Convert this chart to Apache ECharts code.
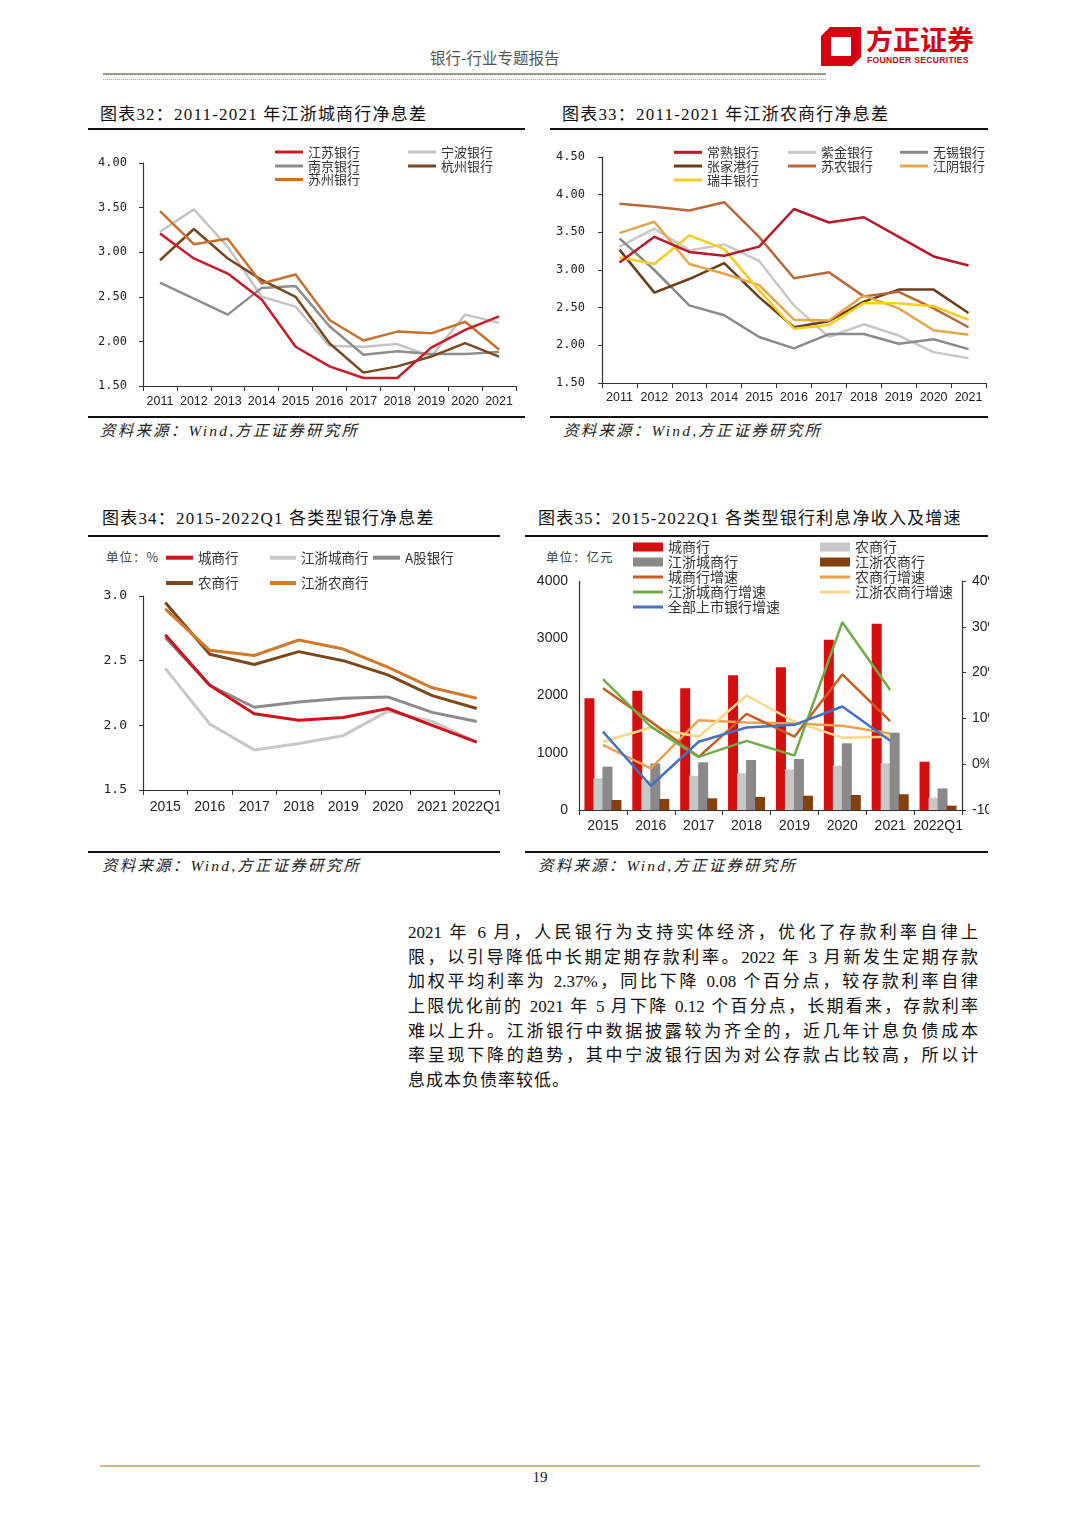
<!DOCTYPE html>
<html lang="zh-CN">
<head>
<meta charset="utf-8">
<script src="https://cdn.jsdelivr.net/npm/echarts@6/dist/echarts.min.js"></script>
<style>
body{margin:0;background:#fff;}
#page{position:relative;width:1080px;height:1528px;overflow:hidden;background:#fff;font-family:"Liberation Serif","Noto Sans CJK SC",serif;}
.abs{position:absolute;white-space:nowrap;}
.title{font-size:17px;letter-spacing:1.2px;color:#111;line-height:20px;}
.rule{position:absolute;height:0;border-top:2.5px solid #111;}
.src{font-size:15.5px;font-style:italic;letter-spacing:2.2px;color:#222;line-height:18px;}
.chart{position:absolute;overflow:hidden;}
.unit{font-family:"Noto Sans CJK SC",sans-serif;font-size:12.5px;color:#444;line-height:14px;letter-spacing:1px;}
.para{position:absolute;left:408px;top:921px;width:570px;font-size:17px;color:#111;}
.para div{height:24.67px;line-height:24.67px;text-align:justify;text-align-last:justify;}
.para div.last{text-align-last:left;letter-spacing:1px;}
</style>
</head>
<body>
<div id="page">
  <!-- header -->
  <div class="abs" style="left:430px;top:47px;font-family:'Noto Sans CJK SC',sans-serif;font-size:15.5px;color:#555;line-height:20px;">银行-行业专题报告</div>
  <div class="abs" style="left:103px;top:73px;width:723px;height:0;border-top:2px solid #9e9a80;"></div>
  <div class="abs" style="left:103px;top:79px;width:723px;height:0;border-top:1px dotted #a8a8a8;"></div>
  <svg class="abs" style="left:0;top:0;" width="1080" height="90">
    <path d="M830 27 L861 27 L861 57 L852 66 L821 66 L821 36 Z M831 37 L851 37 L851 56 L831 56 Z" fill="#d7000f" fill-rule="evenodd"/>
  </svg>
  <div class="abs" style="left:866px;top:22px;font-family:'Noto Sans CJK SC',sans-serif;font-weight:700;font-size:27px;color:#d7000f;line-height:34px;letter-spacing:0px;">方正证券</div>
  <div class="abs" style="left:867px;top:55px;font-family:'Liberation Sans',sans-serif;font-weight:700;font-size:8.6px;color:#d7000f;line-height:10px;letter-spacing:0.3px;">FOUNDER SECURITIES</div>

  <!-- chart 32 -->
  <div class="abs title" style="left:100px;top:105px;">图表32：2011-2021 年江浙城商行净息差</div>
  <div class="rule" style="left:88px;top:128px;width:437px;"></div>
  <div id="c32" class="chart" style="left:88px;top:135px;width:437px;height:280px;"></div>
  <div class="rule" style="left:88px;top:416px;width:437px;"></div>
  <div class="abs src" style="left:100px;top:422px;">资料来源：Wind,方正证券研究所</div>

  <!-- chart 33 -->
  <div class="abs title" style="left:562px;top:105px;">图表33：2011-2021 年江浙农商行净息差</div>
  <div class="rule" style="left:550px;top:128px;width:438px;"></div>
  <div id="c33" class="chart" style="left:550px;top:135px;width:438px;height:280px;"></div>
  <div class="rule" style="left:550px;top:416px;width:438px;"></div>
  <div class="abs src" style="left:563px;top:422px;">资料来源：Wind,方正证券研究所</div>

  <!-- chart 34 -->
  <div class="abs title" style="left:102px;top:509px;">图表34：2015-2022Q1 各类型银行净息差</div>
  <div class="rule" style="left:88px;top:535px;width:412px;"></div>
  <div class="abs unit" style="left:106px;top:550px;">单位：%</div>
  <div id="c34" class="chart" style="left:88px;top:540px;width:412px;height:310px;"></div>
  <div class="rule" style="left:88px;top:851px;width:412px;"></div>
  <div class="abs src" style="left:102px;top:857px;">资料来源：Wind,方正证券研究所</div>

  <!-- chart 35 -->
  <div class="abs title" style="left:538px;top:509px;">图表35：2015-2022Q1 各类型银行利息净收入及增速</div>
  <div class="rule" style="left:525px;top:535px;width:463px;"></div>
  <div class="abs unit" style="left:546px;top:550px;">单位：亿元</div>
  <div id="c35" class="chart" style="left:525px;top:540px;width:464px;height:310px;"></div>
  <div class="rule" style="left:525px;top:851px;width:463px;"></div>
  <div class="abs src" style="left:538px;top:857px;">资料来源：Wind,方正证券研究所</div>

  <!-- paragraph -->
  <div class="para">
    <div>2021 年 6 月，人民银行为支持实体经济，优化了存款利率自律上</div>
    <div>限，以引导降低中长期定期存款利率。2022 年 3 月新发生定期存款</div>
    <div>加权平均利率为 2.37%，同比下降 0.08 个百分点，较存款利率自律</div>
    <div>上限优化前的 2021 年 5 月下降 0.12 个百分点，长期看来，存款利率</div>
    <div>难以上升。江浙银行中数据披露较为齐全的，近几年计息负债成本</div>
    <div>率呈现下降的趋势，其中宁波银行因为对公存款占比较高，所以计</div>
    <div class="last">息成本负债率较低。</div>
  </div>

  <!-- footer -->
  <div class="abs" style="left:100px;top:1465px;width:880px;height:0;border-top:2px solid #cdb88e;"></div>
  <div class="abs" style="left:530px;top:1468px;width:20px;text-align:center;font-size:15px;color:#222;line-height:18px;">19</div>
</div>

<script>
// ---------- data ----------
const years1121 = ['2011','2012','2013','2014','2015','2016','2017','2018','2019','2020','2021'];
const yTicks32 = [1.5, 4.0, 0.5];   // min, max, interval
const yTicks33 = [1.5, 4.5, 0.5];

// chart 32: 江浙城商行净息差 (%)
const jiangsuBank  = [3.21,2.93,2.76,2.47,1.94,1.72,1.59,1.59,1.93,2.13,2.28];
const ningboBank   = [3.23,3.48,3.06,2.50,2.39,1.95,1.94,1.97,1.83,2.30,2.21];
const nanjingBank  = [2.66,2.48,2.30,2.60,2.62,2.17,1.85,1.89,1.86,1.86,1.88];
const hangzhouBank = [2.91,3.26,2.93,2.69,2.50,1.98,1.65,1.72,1.83,1.98,1.83];
const suzhouBank   = [3.46,3.09,3.15,2.65,2.75,2.24,2.01,2.11,2.09,2.22,1.91];

// chart 33: 江浙农商行净息差 (%)
const changshuBank = [3.10,3.44,3.24,3.19,3.31,3.81,3.63,3.70,3.44,3.18,3.06];
const zijinBank    = [3.31,3.55,3.26,3.34,3.12,2.53,2.11,2.28,2.13,1.91,1.83];
const wuxiBank     = [3.42,3.00,2.53,2.40,2.11,1.96,2.15,2.15,2.02,2.08,1.95];
const zjgBank      = [3.27,2.70,2.88,3.09,2.64,2.24,2.32,2.58,2.74,2.74,2.43];
const sunongBank   = [3.88,3.84,3.79,3.90,3.44,2.89,2.97,2.65,2.71,2.49,2.24];
const jiangyinBank = [3.49,3.64,3.08,2.95,2.80,2.34,2.33,2.66,2.49,2.20,2.14];
const ruifengBank  = [3.17,3.08,3.46,3.28,2.73,2.22,2.27,2.56,2.56,2.52,2.34];

// chart 34: 各类型银行净息差 (%)
const years1522 = ['2015','2016','2017','2018','2019','2020','2021','2022Q1'];
const nimCity    = [2.70,2.31,2.09,2.04,2.06,2.13,2.00,1.87];
const nimZjCity  = [2.44,2.01,1.81,1.86,1.92,2.11,2.03,1.87];
const nimAShare  = [2.68,2.31,2.14,2.18,2.21,2.22,2.10,2.03];
const nimRural   = [2.95,2.55,2.47,2.57,2.50,2.39,2.23,2.13];
const nimZjRural = [2.90,2.58,2.54,2.66,2.59,2.45,2.29,2.21];

// chart 35: 利息净收入 (亿元) 及增速 (%)
const incCity    = [1950,2085,2125,2352,2492,2975,3255,844];
const incRural   = [553,520,600,640,710,774,815,215];
const incZjCity  = [757,815,833,873,891,1165,1351,378];
const incZjRural = [175,192,204,227,250,262,274,76];
const grCity     = [16.6,9.3,1.6,11.0,6.0,19.6,9.4,null];
const grRural    = [4.2,-0.9,9.6,9.1,8.9,8.4,6.7,null];
const grZjCity   = [18.6,8.2,1.6,5.1,1.9,31.0,16.2,null];
const grZjRural  = [4.9,8.0,6.0,15.0,9.3,5.8,6.0,null];
const grAll      = [7.1,-4.7,4.9,8.0,8.6,12.6,5.1,null];

// ---------- helpers ----------
const CJK = '"Noto Sans CJK SC", sans-serif';
const AX = '#333';
function leg(name, x, y, w, h, fs) {
  return {data:[name], left:x, top:y - fs/2, padding:0, icon:'rect', itemWidth:w, itemHeight:h,
    selectedMode:false, textStyle:{fontSize:fs, color:'#333', fontFamily:CJK}};
}
function lineS(name, data, color, width, yIdx) {
  return {name, type:'line', data, symbol:'none', smooth:false, yAxisIndex:yIdx||0, z:5,
    itemStyle:{color}, lineStyle:{color, width}, connectNulls:false};
}
function catAxis(data, fs, family, margin) {
  return {type:'category', data, boundaryGap:true,
    axisLine:{lineStyle:{color:AX, width:1.2}},
    axisTick:{show:true, length:5, lineStyle:{color:AX}},
    axisLabel:{interval:0, margin, fontSize:fs, color:'#222', fontFamily:family}};
}
function valAxis(range, margin, fmt, family, fs, tick) {
  return {type:'value', min:range[0], max:range[1], interval:range[2],
    axisLine:{show:true, lineStyle:{color:AX, width:1.2}},
    axisTick:{show:tick, length:4, lineStyle:{color:AX}},
    splitLine:{show:false},
    axisLabel:{margin, formatter:fmt, fontSize:fs, color:'#222', fontFamily:family}};
}
function grid(l, t, w, h) {
  return {left:l, top:t, width:w, height:h, containLabel:false, outerBoundsMode:'none'};
}

// ---------- chart 32 ----------
echarts.init(document.getElementById('c32')).setOption({
  animation:false,
  grid: grid(55, 28, 373, 223),
  xAxis: catAxis(years1121, 12.5, 'Liberation Sans', 9),
  yAxis: valAxis(yTicks32, 16, v => v.toFixed(2), 'DejaVu Sans Mono', 12, true),
  legend:[
    leg('江苏银行',187,17,28,3,13), leg('宁波银行',320,17,28,3,13),
    leg('南京银行',187,31,28,3,13), leg('杭州银行',320,31,28,3,13),
    leg('苏州银行',187,44.5,28,3,13)
  ],
  series:[
    lineS('宁波银行', ningboBank, '#c4c4c4', 2.5),
    lineS('南京银行', nanjingBank, '#8e8e8e', 2.5),
    lineS('杭州银行', hangzhouBank, '#7a4820', 2.5),
    lineS('苏州银行', suzhouBank, '#c8702c', 2.5),
    lineS('江苏银行', jiangsuBank, '#cc1a2a', 2.5)
  ]
});

// ---------- chart 33 ----------
echarts.init(document.getElementById('c33')).setOption({
  animation:false,
  grid: grid(52, 22, 384, 226),
  xAxis: catAxis(years1121, 12.5, 'Liberation Sans', 8),
  yAxis: valAxis(yTicks33, 17, v => v.toFixed(2), 'DejaVu Sans Mono', 12, true),
  legend:[
    leg('常熟银行',124,17.3,28,3,13), leg('紫金银行',238,17.3,28,3,13), leg('无锡银行',350,17.3,28,3,13),
    leg('张家港行',124,31,28,3,13), leg('苏农银行',238,31,28,3,13), leg('江阴银行',350,31,28,3,13),
    leg('瑞丰银行',124,45,28,3,13)
  ],
  series:[
    lineS('紫金银行', zijinBank, '#c8c8c8', 2.5),
    lineS('无锡银行', wuxiBank, '#8a8a8a', 2.5),
    lineS('张家港行', zjgBank, '#6b3e1a', 2.5),
    lineS('苏农银行', sunongBank, '#b8693a', 2.5),
    lineS('江阴银行', jiangyinBank, '#e6a64e', 2.5),
    lineS('瑞丰银行', ruifengBank, '#f6cc1e', 2.5),
    lineS('常熟银行', changshuBank, '#b8182a', 2.5)
  ]
});

// ---------- chart 34 ----------
echarts.init(document.getElementById('c34')).setOption({
  animation:false,
  grid: grid(55, 56, 356, 194),
  xAxis: catAxis(years1522, 14, '"Liberation Sans Narrow","Liberation Sans"', 10),
  yAxis: valAxis([1.5,3.0,0.5], 16, v => v.toFixed(1), 'DejaVu Sans Mono', 13, true),
  legend:[
    leg('城商行',78,17.7,27,4,13.5), leg('江浙城商行',182,17.7,26,4,13.5), leg('A股银行',285,17.7,27,4,13.5),
    leg('农商行',78,43,27,4,13.5), leg('江浙农商行',182,43,26,4,13.5)
  ],
  series:[
    lineS('江浙城商行', nimZjCity, '#c8c8c8', 3),
    lineS('A股银行', nimAShare, '#8c8c8c', 3),
    lineS('城商行', nimCity, '#d0121c', 3),
    lineS('农商行', nimRural, '#7c4818', 3),
    lineS('江浙农商行', nimZjRural, '#d07a2c', 3)
  ]
});

// ---------- chart 35 ----------
function barS(name, data, color) {
  return {name, type:'bar', data, barWidth:10, barGap:'-10%', itemStyle:{color}, z:2};
}
echarts.init(document.getElementById('c35')).setOption({
  animation:false,
  grid: grid(54, 41, 383, 229),
  xAxis: catAxis(years1522, 14, '"Liberation Sans Narrow","Liberation Sans"', 9),
  yAxis:[
    valAxis([0,4000,1000], 11, v => String(v), '"Liberation Sans Narrow","Liberation Sans"', 14, false),
    Object.assign(valAxis([-10,40,10], 10, v => v + '%', '"Liberation Sans Narrow","Liberation Sans"', 14, true), {position:'right'})
  ],
  legend:[
    leg('城商行',108,7,30,9,14), leg('农商行',295,7,30,9,14),
    leg('江浙城商行',108,22,30,9,14), leg('江浙农商行',295,22,30,9,14),
    leg('城商行增速',108,37,30,3,14), leg('农商行增速',295,37,30,3,14),
    leg('江浙城商行增速',108,52,30,3,14), leg('江浙农商行增速',295,52,30,3,14),
    leg('全部上市银行增速',108,67,30,3,14)
  ],
  series:[
    barS('城商行', incCity, '#d40f0f'),
    barS('农商行', incRural, '#c8c8c8'),
    barS('江浙城商行', incZjCity, '#8a8a8a'),
    barS('江浙农商行', incZjRural, '#84400e'),
    lineS('农商行增速', grRural, '#eca24c', 2.5, 1),
    lineS('江浙农商行增速', grZjRural, '#f8d98c', 2.5, 1),
    lineS('城商行增速', grCity, '#c85c22', 2.5, 1),
    lineS('江浙城商行增速', grZjCity, '#70ad47', 2.5, 1),
    lineS('全部上市银行增速', grAll, '#4472c4', 2.5, 1)
  ]
});
</script>
</body>
</html>
